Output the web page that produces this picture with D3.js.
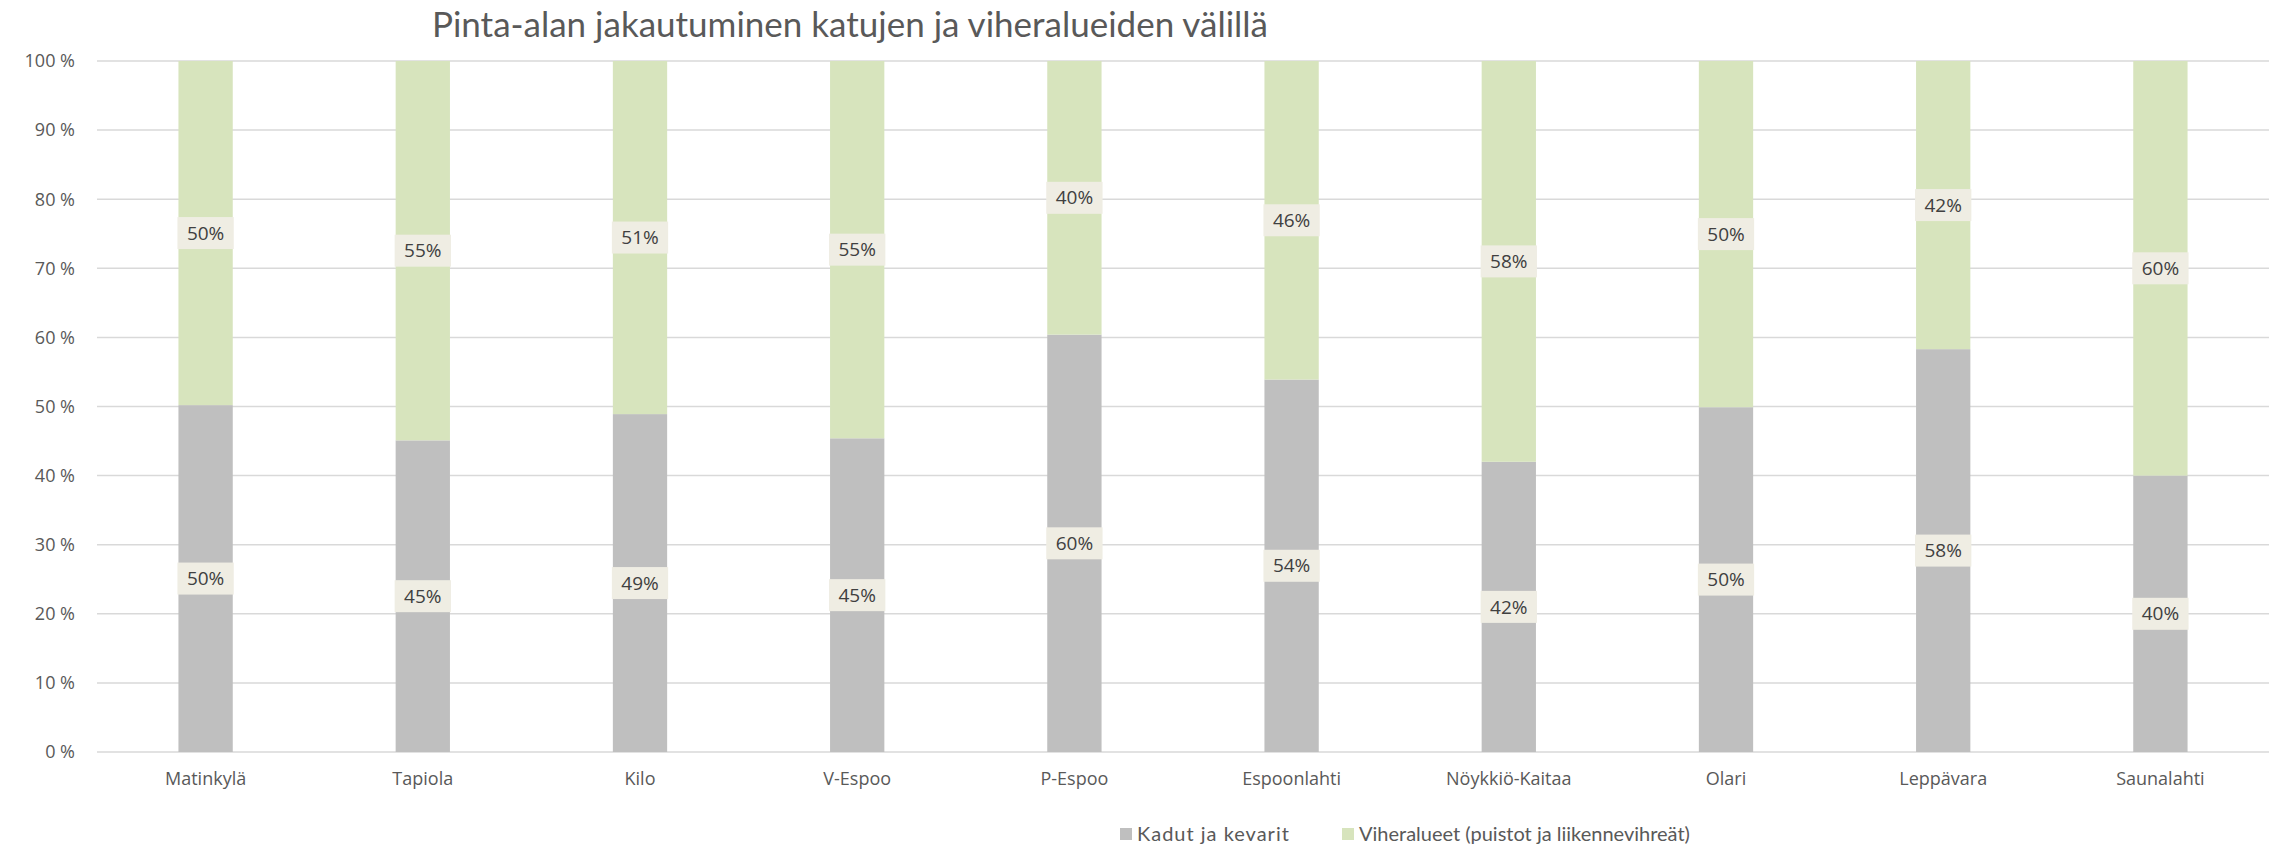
<!DOCTYPE html>
<html lang="fi">
  <head>
    <meta charset="utf-8">
    <title>Pinta-alan jakautuminen katujen ja viheralueiden välillä</title>
    <script src="https://cdn.jsdelivr.net/npm/d3@7"></script>
    <style>
      body { margin: 0; background: #fff; }
      .tick-y, .tick-x { font-family: "Open Sans", sans-serif; fill: #595959; }
      .title { font-family: Lato, "Open Sans", sans-serif; fill: #595959; }
      .legend text { font-family: Lato, "Open Sans", sans-serif; fill: #595959; }
      .value { font-family: "Open Sans", sans-serif; fill: #404040; }
    </style>
  </head>
  <body>
    <div id="chart"></div>

    <script type="text/javascript">

      /*
       * Data (percent of area)
       */

      var areas   = ["Matinkylä","Tapiola","Kilo","V-Espoo","P-Espoo","Espoonlahti","Nöykkiö-Kaitaa","Olari","Leppävara","Saunalahti"]
      var streets = [50.2, 45.1, 48.9, 45.4, 60.4, 53.9, 42.0, 49.9, 58.3, 40.0]
      var green   = [49.8, 54.9, 51.1, 54.6, 39.6, 46.1, 58.0, 50.1, 41.7, 60.0]
      var yTicks  = [0, 10, 20, 30, 40, 50, 60, 70, 80, 90, 100]
      var seriesNames = ["Kadut ja kevarit", "Viheralueet (puistot ja liikennevihreät)"]

      var w = 2275,
          h = 848;

      var grey = "#bfbfbf",
          leaf = "#d7e4bd";

      var svg = d3.select("#chart")
          .append("svg")
          .attr("width", w)
          .attr("height", h);

      var xScale = d3.scaleBand()
          .domain(areas)
          .range([97, 2269])
          .paddingInner(0.75)
          .paddingOuter(0.375);

      var yScale = d3.scaleLinear()
          .domain([0, 100])
          .range([752, 61]);

      /*
       * Grid + axis labels
       */

      svg.append("g").selectAll("line")
        .data(yTicks)
        .enter().append("line")
        .attr("x1", 97)
        .attr("x2", 2269)
        .attr("y1", function(d){ return yScale(d) })
        .attr("y2", function(d){ return yScale(d) })
        .style("stroke", "#d9d9d9")
        .style("stroke-width", 1.5);

      svg.append("g").selectAll("text")
        .data(yTicks)
        .enter().append("text")
        .attr("class", "tick-y")
        .attr("x", 75)
        .attr("y", function(d){ return yScale(d) })
        .attr("dy", "0.35em")
        .attr("text-anchor", "end")
        .style("font-size", "18px")
        .text(function(d){ return d + " %" });

      svg.append("g").selectAll("text")
        .data(areas)
        .enter().append("text")
        .attr("class", "tick-x")
        .attr("x", function(d){ return xScale(d) + xScale.bandwidth() / 2 })
        .attr("y", 779)
        .attr("dy", "0.35em")
        .attr("text-anchor", "middle")
        .style("font-size", "18px")
        .text(function(d){ return d });

      /*
       * Stacked bars
       */

      var rows = areas.map(function(a, i){
        return { area: a, street: streets[i], green: green[i] }
      })

      var stack = d3.stack().keys(["street", "green"])(rows)
      var colors = [grey, leaf]

      var layers = svg.append("g").selectAll("g")
        .data(stack)
        .enter().append("g")
        .attr("fill", function(d, i){ return colors[i] });

      layers.selectAll("rect")
        .data(function(d){ return d })
        .enter().append("rect")
        .attr("x", function(d){ return xScale(d.data.area) })
        .attr("width", xScale.bandwidth())
        .attr("y", function(d){ return yScale(d[1]) })
        .attr("height", function(d){ return yScale(d[0]) - yScale(d[1]) });

      // value labels sit in the middle of each segment, on a beige box
      var labels = layers.selectAll("g.value")
        .data(function(d){ return d })
        .enter().append("g")
        .attr("class", "value")
        .attr("transform", function(d){
          var cx = xScale(d.data.area) + xScale.bandwidth() / 2
          var cy = yScale((d[0] + d[1]) / 2)
          return "translate(" + cx + "," + cy + ")"
        });

      labels.append("rect")
        .attr("x", -xScale.bandwidth() / 2 - 1)
        .attr("y", -16)
        .attr("width", xScale.bandwidth() + 2)
        .attr("height", 32)
        .attr("fill", "#efede3");

      labels.append("text")
        .attr("class", "value")
        .attr("text-anchor", "middle")
        .attr("dy", "0.35em")
        .style("font-size", "19px")
        .text(function(d){ return Math.round(d[1] - d[0]) + "%" });

      /*
       * Title + legend
       */

      svg.append("text")
        .attr("class", "title")
        .attr("x", 432)
        .attr("y", 25)
        .attr("dy", "0.35em")
        .style("font-size", "35px")
        .text("Pinta-alan jakautuminen katujen ja viheralueiden välillä");

      var legend = svg.append("g").attr("class", "legend")
      var legendX = [1120, 1342]

      seriesNames.forEach(function(name, i){
        legend.append("rect")
          .attr("x", legendX[i])
          .attr("y", 828)
          .attr("width", 12)
          .attr("height", 12)
          .attr("fill", colors[i]);
        legend.append("text")
          .attr("x", legendX[i] + 17)
          .attr("y", 834)
          .attr("dy", "0.35em")
          .style("font-size", "20px")
          .style("letter-spacing", i == 0 ? "1px" : "0px")
          .text(name);
      })

    </script>
  </body>
</html>
